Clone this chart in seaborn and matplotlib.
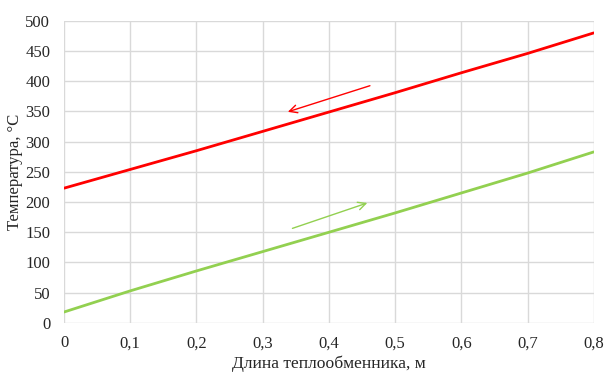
import matplotlib
matplotlib.use("Agg")
import matplotlib.pyplot as plt
import seaborn as sns
import pandas as pd

x_vals = [0, 0.1, 0.2, 0.3, 0.4, 0.5, 0.6, 0.7, 0.8]
hot = [223, 254, 285, 317, 349, 381, 414, 446, 480]
cold = [18, 53, 86, 118, 150, 182, 215, 248, 283]
xticks = [0, 0.1, 0.2, 0.3, 0.4, 0.5, 0.6, 0.7, 0.8]
xtick_labels = ["0", "0,1", "0,2", "0,3", "0,4", "0,5", "0,6", "0,7", "0,8"]
yticks = [0, 50, 100, 150, 200, 250, 300, 350, 400, 450, 500]

sns.set_style("whitegrid", {"grid.color": "#d9d9d9"})
plt.rcParams['font.family'] = ['Liberation Serif', 'DejaVu Serif']

fig = plt.figure(figsize=(6.04, 3.72), dpi=100)
ax = fig.add_axes([0.106, 0.132, 0.877, 0.812])

df = pd.DataFrame({"x": x_vals, "hot": hot, "cold": cold})
sns.lineplot(data=df, x="x", y="hot", ax=ax, color="#ff0000", linewidth=2.0)
sns.lineplot(data=df, x="x", y="cold", ax=ax, color="#92d050", linewidth=2.0)

ax.annotate("", xy=(0.334, 348), xytext=(0.466, 394),
            arrowprops=dict(arrowstyle="->", color="#ff0000", lw=1.0, mutation_scale=14))
ax.annotate("", xy=(0.462, 200), xytext=(0.341, 155),
            arrowprops=dict(arrowstyle="->", color="#92d050", lw=1.0, mutation_scale=14))

ax.set_xlim(0, 0.8)
ax.set_ylim(0, 500)
ax.set_xticks(xticks)
ax.set_xticklabels(xtick_labels)
ax.set_yticks(yticks)
ax.tick_params(axis="x", labelsize=12, length=0, pad=9, colors="#262626")
ax.tick_params(axis="y", labelsize=12, length=0, pad=10, colors="#262626")
for s in ax.spines.values():
    s.set_visible(False)
ax.grid(True, color="#d9d9d9", linewidth=1.0)
ax.set_xlabel("Длина теплообменника, м", fontsize=12.6, color="#262626", va="center")
ax.set_ylabel("Температура, °C", fontsize=12, color="#262626", va="center")
ax.xaxis.set_label_coords(0.5, -0.136)
ax.yaxis.set_label_coords(-0.0925, 0.5)

fig.savefig("out.png", dpi=100)
